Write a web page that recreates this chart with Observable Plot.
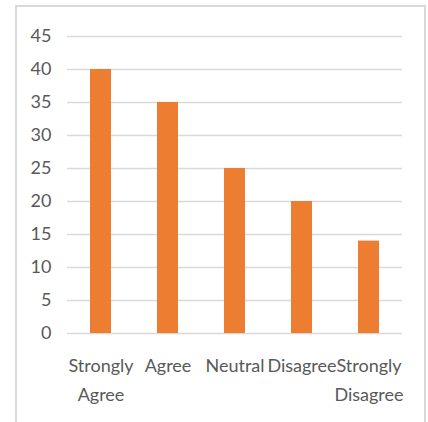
<!DOCTYPE html>
<html>
<head>
<meta charset="utf-8">
<script src="https://cdn.jsdelivr.net/npm/d3@7"></script>
<script src="https://cdn.jsdelivr.net/npm/@observablehq/plot@0.6"></script>
<style>
  html, body { margin: 0; padding: 0; background: #fff; width: 428px; height: 422px; overflow: hidden; }
  #frame { position: absolute; left: 15px; top: 5px; width: 407px; height: 440px; border: 2px solid #d9d9d9; box-sizing: content-box; }
  #chart { position: absolute; left: 0; top: 0; }
</style>
</head>
<body>
<div id="frame"></div>
<div id="chart"></div>
<script>
const categories = ["Strongly Agree", "Agree", "Neutral", "Disagree", "Strongly Disagree"];
const values = [40, 35, 25, 20, 14];
const yTicks = [0, 5, 10, 15, 20, 25, 30, 35, 40, 45];

const data = categories.map((c, i) => ({category: c, value: values[i]}));

const chart = Plot.plot({
  width: 428,
  height: 422,
  marginLeft: 67,
  marginRight: 26,
  marginTop: 36,
  marginBottom: 89,
  style: {
    fontFamily: "Lato, 'Liberation Sans', sans-serif",
    fontSize: "18px",
    color: "#595959",
    background: "transparent",
    overflow: "visible"
  },
  x: {domain: categories, paddingInner: 0.69, paddingOuter: 0.345, label: null},
  y: {domain: [0, 45], label: null},
  marks: [
    Plot.gridY(yTicks, {stroke: "#d9d9d9", strokeOpacity: 1, strokeWidth: 1.5}),
    Plot.barY(data, {x: "category", y: "value", fill: "#ED7D31"}),
    Plot.axisY(yTicks, {tickSize: 0, tickPadding: 16, label: null, fill: "#595959"}),
    Plot.axisX({tickSize: 0, tickPadding: 18, label: null, lineHeight: 1.6, fill: "#595959",
      tickFormat: d => d.replace(" ", "\n")})
  ]
});
document.getElementById("chart").appendChild(chart);
</script>
</body>
</html>
